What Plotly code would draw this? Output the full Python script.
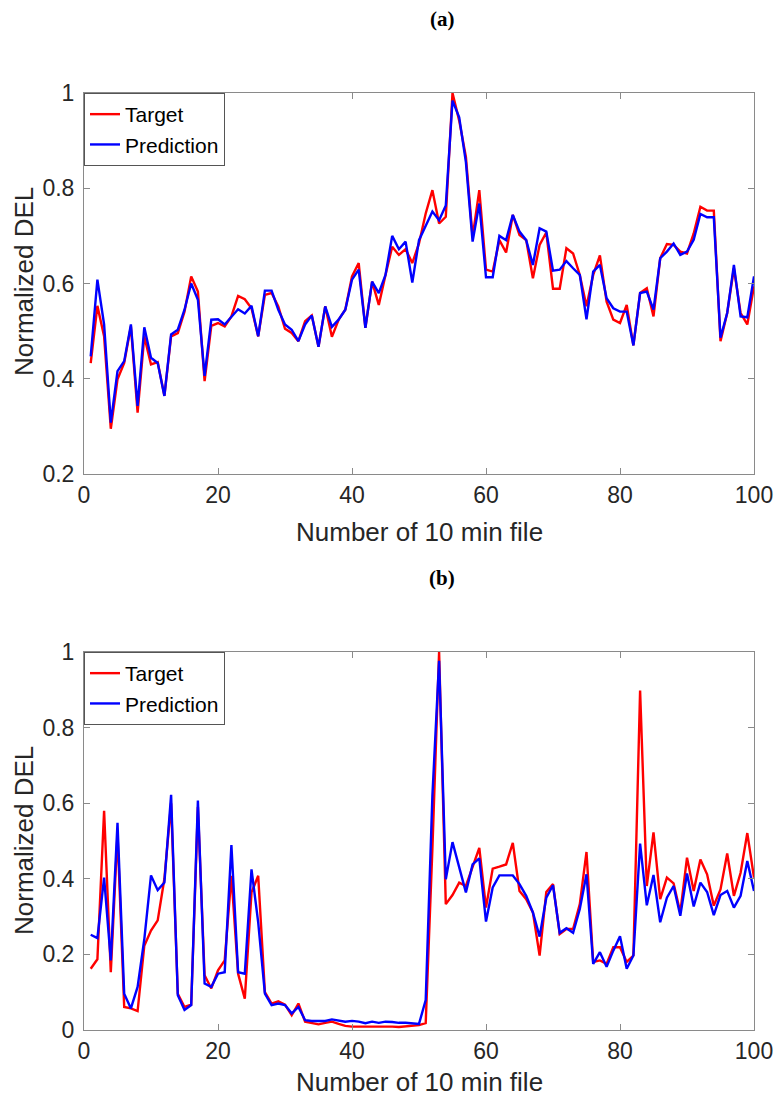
import plotly.graph_objects as go

files = list(range(1, 101))

a_target = [0.433, 0.553, 0.489, 0.295, 0.399, 0.433, 0.510, 0.329, 0.489, 0.430,
            0.435, 0.364, 0.489, 0.496, 0.541, 0.615, 0.583, 0.395, 0.511, 0.517,
            0.510, 0.531, 0.574, 0.567, 0.548, 0.489, 0.576, 0.580, 0.552, 0.505,
            0.496, 0.479, 0.521, 0.533, 0.467, 0.552, 0.488, 0.524, 0.545, 0.615,
            0.643, 0.507, 0.604, 0.555, 0.618, 0.677, 0.660, 0.672, 0.643, 0.684,
            0.747, 0.796, 0.726, 0.740, 1.000, 0.942, 0.866, 0.698, 0.796, 0.629,
            0.625, 0.691, 0.665, 0.744, 0.702, 0.691, 0.611, 0.681, 0.707, 0.589,
            0.589, 0.674, 0.663, 0.618, 0.552, 0.618, 0.659, 0.562, 0.524, 0.517,
            0.555, 0.470, 0.580, 0.590, 0.531, 0.653, 0.683, 0.681, 0.667, 0.663,
            0.705, 0.761, 0.753, 0.753, 0.479, 0.538, 0.632, 0.538, 0.514, 0.594]

a_pred = [0.447, 0.608, 0.514, 0.308, 0.416, 0.437, 0.514, 0.343, 0.508, 0.444,
          0.433, 0.364, 0.493, 0.503, 0.545, 0.600, 0.566, 0.406, 0.524, 0.525,
          0.514, 0.531, 0.546, 0.537, 0.553, 0.489, 0.585, 0.585, 0.545, 0.514,
          0.503, 0.479, 0.514, 0.533, 0.467, 0.552, 0.509, 0.524, 0.545, 0.608,
          0.629, 0.507, 0.604, 0.580, 0.618, 0.700, 0.672, 0.688, 0.602, 0.691,
          0.722, 0.751, 0.733, 0.764, 0.984, 0.949, 0.855, 0.688, 0.768, 0.613,
          0.613, 0.700, 0.691, 0.744, 0.709, 0.691, 0.639, 0.716, 0.709, 0.627,
          0.629, 0.647, 0.632, 0.618, 0.525, 0.625, 0.639, 0.569, 0.548, 0.541,
          0.541, 0.470, 0.580, 0.583, 0.545, 0.653, 0.667, 0.684, 0.660, 0.667,
          0.692, 0.746, 0.739, 0.739, 0.486, 0.538, 0.639, 0.531, 0.529, 0.615]

b_target = [0.162, 0.187, 0.580, 0.153, 0.520, 0.061, 0.057, 0.050, 0.223, 0.263,
            0.290, 0.400, 0.600, 0.096, 0.061, 0.067, 0.590, 0.145, 0.110, 0.158,
            0.184, 0.408, 0.149, 0.083, 0.364, 0.408, 0.100, 0.070, 0.076, 0.067,
            0.039, 0.070, 0.022, 0.018, 0.015, 0.019, 0.022, 0.016, 0.011, 0.009,
            0.009, 0.009, 0.009, 0.010, 0.009, 0.009, 0.008, 0.009, 0.011, 0.013,
            0.018, 0.480, 1.000, 0.333, 0.357, 0.390, 0.381, 0.430, 0.482, 0.324,
            0.427, 0.432, 0.438, 0.495, 0.368, 0.346, 0.311, 0.197, 0.365, 0.386,
            0.254, 0.267, 0.267, 0.333, 0.471, 0.180, 0.184, 0.175, 0.219, 0.219,
            0.180, 0.197, 0.898, 0.381, 0.523, 0.346, 0.403, 0.388, 0.311, 0.456,
            0.368, 0.451, 0.412, 0.329, 0.372, 0.467, 0.355, 0.416, 0.521, 0.403]

b_pred = [0.252, 0.243, 0.403, 0.184, 0.548, 0.096, 0.057, 0.114, 0.240, 0.409,
          0.370, 0.390, 0.622, 0.092, 0.053, 0.066, 0.607, 0.123, 0.114, 0.149,
          0.153, 0.489, 0.153, 0.149, 0.425, 0.285, 0.096, 0.066, 0.070, 0.066,
          0.044, 0.061, 0.026, 0.024, 0.024, 0.024, 0.028, 0.024, 0.022, 0.024,
          0.022, 0.018, 0.022, 0.019, 0.022, 0.021, 0.019, 0.019, 0.018, 0.016,
          0.079, 0.620, 0.977, 0.399, 0.497, 0.434, 0.364, 0.438, 0.454, 0.287,
          0.377, 0.409, 0.409, 0.409, 0.386, 0.355, 0.311, 0.247, 0.350, 0.383,
          0.257, 0.269, 0.257, 0.320, 0.412, 0.175, 0.206, 0.167, 0.210, 0.248,
          0.162, 0.197, 0.493, 0.330, 0.410, 0.285, 0.350, 0.381, 0.302, 0.414,
          0.327, 0.390, 0.365, 0.304, 0.357, 0.368, 0.324, 0.355, 0.447, 0.368]

x_ticks = [0, 20, 40, 60, 80, 100]
ya_ticks = [0.2, 0.4, 0.6, 0.8, 1.0]
ya_labels = ["0.2", "0.4", "0.6", "0.8", "1"]
yb_ticks = [0, 0.2, 0.4, 0.6, 0.8, 1.0]
yb_labels = ["0", "0.2", "0.4", "0.6", "0.8", "1"]

W, H = 777, 1101
def px_x(p): return p / W
def px_y(p): return 1 - p / H

RED = "#ff0000"
BLUE = "#0000ff"
AX = "#8a8a8a"
TXT = "#262626"
SANS = "Liberation Sans, Arial, sans-serif"
SERIF = "Liberation Serif, Times New Roman, serif"

fig = go.Figure()
fig.add_trace(go.Scatter(x=files, y=a_target, mode="lines", name="Target",
                         line=dict(color=RED, width=2.4), xaxis="x", yaxis="y", legend="legend"))
fig.add_trace(go.Scatter(x=files, y=a_pred, mode="lines", name="Prediction",
                         line=dict(color=BLUE, width=2.4), xaxis="x", yaxis="y", legend="legend"))
fig.add_trace(go.Scatter(x=files, y=b_target, mode="lines", name="Target",
                         line=dict(color=RED, width=2.4), xaxis="x2", yaxis="y2", legend="legend2"))
fig.add_trace(go.Scatter(x=files, y=b_pred, mode="lines", name="Prediction",
                         line=dict(color=BLUE, width=2.4), xaxis="x2", yaxis="y2", legend="legend2"))

xdom = [px_x(84), px_x(754)]
common_x = dict(range=[0, 100], tickvals=x_ticks, ticktext=[str(v) for v in x_ticks],
                showline=True, linecolor=AX, linewidth=1, mirror="allticks",
                ticks="inside", ticklen=6, tickcolor=AX, showgrid=False, zeroline=False,
                tickfont=dict(family=SANS, size=23, color=TXT), automargin=False,
                domain=xdom)
common_y = dict(showline=True, linecolor=AX, linewidth=1, mirror="allticks",
                ticks="inside", ticklen=6, tickcolor=AX, showgrid=False, zeroline=False,
                tickfont=dict(family=SANS, size=23, color=TXT), automargin=False,
                ticklabelstandoff=4)

leg = dict(xanchor="left", yanchor="top", bgcolor="white", bordercolor="#555555",
           borderwidth=1, font=dict(family=SANS, size=21, color="black"),
           tracegroupgap=0, itemwidth=30)

fig.update_layout(
    width=W, height=H,
    margin=dict(l=0, r=0, t=0, b=0),
    paper_bgcolor="white", plot_bgcolor="white",
    xaxis=dict(**common_x, anchor="y"),
    yaxis=dict(**common_y, range=[0.2, 1.0], tickvals=ya_ticks, ticktext=ya_labels,
               domain=[px_y(474), px_y(93)], anchor="x"),
    xaxis2=dict(**common_x, anchor="y2"),
    yaxis2=dict(**common_y, range=[0, 1.0], tickvals=yb_ticks, ticktext=yb_labels,
                domain=[px_y(1030), px_y(652)], anchor="x2"),
    legend=dict(**leg, x=px_x(84), y=px_y(93)),
    legend2=dict(**leg, x=px_x(84), y=px_y(652)),
    showlegend=True,
)

annotations = [
    dict(text="<b>(a)</b>", x=px_x(442), y=px_y(19), font=dict(family=SERIF, size=21, color="black")),
    dict(text="<b>(b)</b>", x=px_x(442), y=px_y(578), font=dict(family=SERIF, size=21, color="black")),
    dict(text="Number of 10 min file", x=px_x(419), y=px_y(532), font=dict(family=SANS, size=26, color=TXT)),
    dict(text="Number of 10 min file", x=px_x(419), y=px_y(1082), font=dict(family=SANS, size=26, color=TXT)),
    dict(text="Normalized DEL", x=px_x(24), y=px_y(282), textangle=-90, font=dict(family=SANS, size=26, color=TXT)),
    dict(text="Normalized DEL", x=px_x(24), y=px_y(841), textangle=-90, font=dict(family=SANS, size=26, color=TXT)),
]
for a in annotations:
    a.update(xref="paper", yref="paper", showarrow=False, xanchor="center", yanchor="middle")
fig.update_layout(annotations=annotations)

fig.write_html("out.html", config={"displayModeBar": False},
               post_script="document.body.style.margin='0';document.body.style.padding='0';")
